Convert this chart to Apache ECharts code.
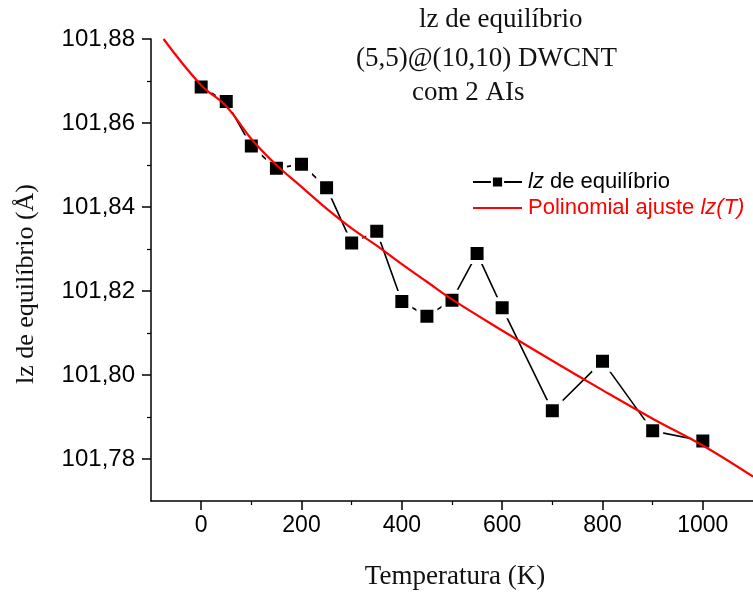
<!DOCTYPE html>
<html>
<head>
<meta charset="utf-8">
<script src="https://cdn.jsdelivr.net/npm/echarts@6/dist/echarts.min.js"></script>
<style>
  html, body { margin: 0; padding: 0; background: #fff; }
  #chart { width: 753px; height: 592px; }
</style>
</head>
<body>
<div id="chart"></div>
<script>
// Equilibrium lz of the (5,5)@(10,10) DWCNT versus temperature
const temperatures = [0, 50, 100, 150, 200, 250, 300, 350, 400, 450, 500, 550, 600, 700, 800, 900, 1000];
const lzValues = [101.8686, 101.8651, 101.8545, 101.8492, 101.8502, 101.8446, 101.8314, 101.8342,
                  101.8175, 101.8140, 101.8178, 101.8289, 101.8160, 101.7915, 101.8033, 101.7867, 101.7843];

// Polynomial fit curve lz(T), sampled along the temperature axis
const fitT = [-75, 0, 50, 100, 150, 200, 250, 300, 350, 400, 450, 500, 600, 700, 800, 900, 1000, 1100];
const fitLz = [101.8800, 101.8690, 101.8640, 101.8562, 101.8500, 101.8448, 101.8396, 101.8349, 101.8308,
               101.8264, 101.8222, 101.8180, 101.8106, 101.8034, 101.7964, 101.7896, 101.7832, 101.7758];

const xMajorTicks = [0, 200, 400, 600, 800, 1000];
const xMinorTicks = [100, 300, 500, 700, 900];
const yMajorTicks = [101.78, 101.80, 101.82, 101.84, 101.86, 101.88];
const yMinorTicks = [101.79, 101.81, 101.83, 101.85, 101.87];

const titleLines = ['lz de equilíbrio', '(5,5)@(10,10) DWCNT', 'com 2 AIs'];
const xName = 'Temperatura (K)';
const yName = 'lz de equilíbrio (Å)';
const dataName = 'lz de equilíbrio';
const fitName = 'Polinomial ajuste lz(T)';

const serif = '"Liberation Serif", "DejaVu Serif", serif';
const sans = '"Liberation Sans", Arial, sans-serif';

const chart = echarts.init(document.getElementById('chart'), null, { renderer: 'canvas' });

const xRange = { min: -100, max: 1100 };
const yRange = { min: 101.77, max: 101.88 };

// title block: left edge and baseline of each line
const titlePos = [[419, 33], [356, 72], [412, 106]];

chart.setOption({
  animation: false,
  backgroundColor: '#fff',
  grid: { left: 151, right: -1, top: 39, bottom: 91, containLabel: false },
  xAxis: [
    {
      type: 'value', ...xRange,
      axisLine: { show: true, onZero: false, lineStyle: { color: '#000', width: 1.5 } },
      axisTick: { show: true, customValues: xMajorTicks, length: 9, lineStyle: { color: '#000', width: 1.5 } },
      axisLabel: { customValues: xMajorTicks, fontFamily: sans, fontSize: 23, color: '#000', margin: 13,
                   formatter: v => String(v) },
      splitLine: { show: false }
    },
    {
      type: 'value', ...xRange, position: 'bottom', offset: 0,
      axisLine: { show: false, onZero: false },
      axisTick: { show: true, customValues: xMinorTicks, length: 4, lineStyle: { color: '#000', width: 1.2 } },
      axisLabel: { show: false },
      splitLine: { show: false }
    }
  ],
  yAxis: [
    {
      type: 'value', ...yRange,
      axisLine: { show: true, onZero: false, lineStyle: { color: '#000', width: 1.5 } },
      axisTick: { show: true, customValues: yMajorTicks, length: 9, lineStyle: { color: '#000', width: 1.5 } },
      axisLabel: {
        customValues: yMajorTicks, fontFamily: sans, fontSize: 24, color: '#000', margin: 16,
        formatter: v => v.toFixed(2).replace('.', ',')
      },
      splitLine: { show: false }
    },
    {
      type: 'value', ...yRange, position: 'left', offset: 0,
      axisLine: { show: false, onZero: false },
      axisTick: { show: true, customValues: yMinorTicks, length: 4, lineStyle: { color: '#000', width: 1.2 } },
      axisLabel: { show: false },
      splitLine: { show: false }
    }
  ],
  legend: {
    orient: 'vertical', left: 472, top: 171, padding: 0, itemWidth: 49, itemHeight: 14, itemGap: 4,
    data: [
      { name: dataName, textStyle: { color: '#000' } },
      { name: fitName, textStyle: { color: '#ff0000' }, itemStyle: { opacity: 0 } }
    ],
    formatter: name => name.replace(/lz(\(T\))?/, m => '{i|' + m + '}'),
    textStyle: {
      fontFamily: sans, fontSize: 22, lineHeight: 22, padding: [0, 0, 0, 1],
      rich: { i: { fontStyle: 'italic', fontFamily: sans, fontSize: 22, lineHeight: 22 } }
    }
  },
  graphic: [
    ...titleLines.map((t, i) => ({
      type: 'text',
      style: { text: t, x: titlePos[i][0], y: titlePos[i][1], fill: '#111', font: '27px ' + serif,
               textAlign: 'left', textVerticalAlign: 'bottom' }
    })),
    {
      type: 'text',
      style: { text: xName, x: 455, y: 577, fill: '#111', font: '27px ' + serif,
               textAlign: 'center', textVerticalAlign: 'middle' }
    },
    {
      type: 'text', x: 26, y: 284, rotation: Math.PI / 2,
      style: { text: yName, x: 0, y: 0, fill: '#111', font: '26px ' + serif,
               textAlign: 'center', textVerticalAlign: 'middle' }
    }
  ],
  series: [
    {
      name: dataName, type: 'line',
      data: temperatures.map((t, i) => [t, lzValues[i]]),
      symbol: 'rect', symbolSize: 17,
      itemStyle: { color: '#000', borderColor: '#fff', borderWidth: 4 },
      lineStyle: { color: '#000', width: 1.6 },
      z: 2
    },
    {
      name: fitName, type: 'line',
      data: fitT.map((t, i) => [t, fitLz[i]]),
      smooth: 0.4, showSymbol: false, symbol: 'none',
      lineStyle: { color: '#ff0000', width: 2.2 },
      itemStyle: { color: '#ff0000' },
      clip: true,
      z: 3
    }
  ]
});
</script>
</body>
</html>
